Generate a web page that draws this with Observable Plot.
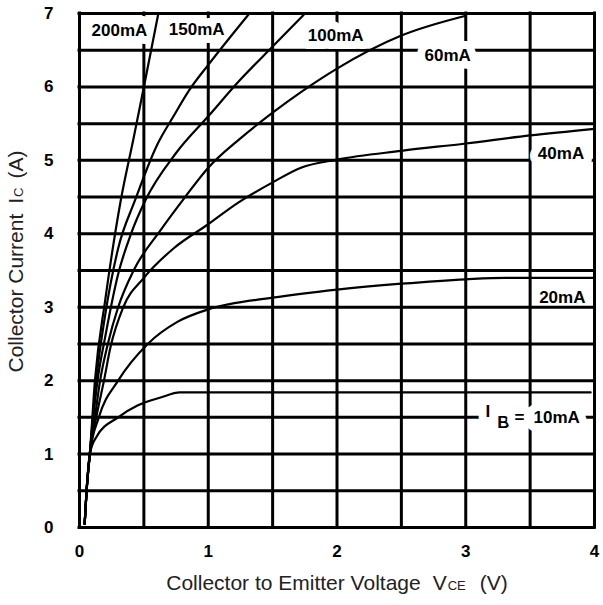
<!DOCTYPE html>
<html>
<head>
<meta charset="utf-8">
<script src="https://cdn.jsdelivr.net/npm/d3@7"></script>
<script src="https://cdn.jsdelivr.net/npm/@observablehq/plot@0.6"></script>
<style>
  body { margin: 0; background: #fff; }
  #chart { width: 603px; height: 605px; }
</style>
</head>
<body>
<div id="chart"></div>
<script>
// ---- Data (VCE in V, IC in A) ----
const v200 = [0.04, 0.055, 0.08, 0.12, 0.2, 0.32, 0.42, 0.5, 0.61];
const i200 = [0.05, 0.5, 1.0, 2.0, 3.1, 4.45, 5.3, 6.0, 6.98];

const v150 = [0.04, 0.055, 0.08, 0.13, 0.2, 0.3, 0.43, 0.6, 0.73, 0.85, 1.0, 1.31];
const i150 = [0.05, 0.5, 1.0, 2.0, 2.9, 3.8, 4.45, 5.2, 5.6, 5.95, 6.3, 6.98];

const v100 = [0.04, 0.055, 0.08, 0.14, 0.2, 0.3, 0.4, 0.51, 0.75, 1.0, 1.25, 1.5, 1.74];
const i100 = [0.05, 0.5, 1.0, 2.0, 2.6, 3.45, 4.0, 4.45, 5.1, 5.6, 6.1, 6.55, 6.98];

const v60 = [0.04, 0.055, 0.08, 0.12, 0.16, 0.22, 0.3, 0.42, 0.63, 0.82, 1.0, 1.25, 1.5, 1.72, 2.0, 2.5, 3.0];
const i60 = [0.05, 0.5, 1.0, 1.5, 2.0, 2.5, 3.0, 3.5, 4.05, 4.5, 4.9, 5.3, 5.65, 5.93, 6.25, 6.7, 6.97];

const v40 = [0.04, 0.055, 0.08, 0.13, 0.19, 0.24, 0.34, 0.5, 0.73, 1.0, 1.23, 1.5, 1.72, 2.0, 2.5, 3.0, 3.5, 4.0];
const i40 = [0.05, 0.5, 1.0, 1.5, 2.0, 2.45, 3.0, 3.4, 3.8, 4.13, 4.42, 4.7, 4.9, 5.01, 5.13, 5.23, 5.34, 5.43];

const v20 = [0.04, 0.055, 0.08, 0.15, 0.3, 0.53, 0.76, 1.0, 1.5, 2.0, 2.5, 3.0, 3.3, 4.0];
const i20 = [0.05, 0.5, 1.0, 1.5, 2.0, 2.5, 2.8, 2.97, 3.13, 3.24, 3.32, 3.38, 3.40, 3.40];

const v10 = [0.04, 0.055, 0.08, 0.13, 0.3, 0.45, 0.63, 0.78, 3.97];
const i10 = [0.05, 0.5, 1.0, 1.23, 1.5, 1.66, 1.77, 1.84, 1.84];

const seriesNames = ["200mA", "150mA", "100mA", "60mA", "40mA", "20mA", "10mA"];

// curve labels and their anchor points (data units)
const labelText = ["200mA", "150mA", "100mA", "60mA", "40mA", "20mA", "IB = 10mA"];
const labelV    = [0.31, 0.91, 1.99, 2.86, 3.74, 3.75, 3.52];
const labelI    = [6.77, 6.78, 6.70, 6.43, 5.09, 3.13, 1.50];
const labelBox  = [true, true, true, true, true, false, true];

// axes
const xTicks = [0, 1, 2, 3, 4];
const yTicks = [0, 1, 2, 3, 4, 5, 6, 7];
const xGrid = [0, 0.5, 1, 1.5, 2, 2.5, 3, 3.5, 4];
const yGrid = [0, 0.5, 1, 1.5, 2, 2.5, 3, 3.5, 4, 4.5, 5, 5.5, 6, 6.5, 7];
const xTitle = "Collector to Emitter Voltage VCE (V)";
const yTitle = "Collector Current IC (A)";

// ---- build table ----
const seriesV = [v200, v150, v100, v60, v40, v20, v10];
const seriesI = [i200, i150, i100, i60, i40, i20, i10];
const rows = seriesNames.flatMap((name, s) =>
  seriesV[s].map((v, k) => ({ s: name, v, i: seriesI[s][k] })));
const labels = labelText.map((t, k) => ({ t, v: labelV[k], i: labelI[k], box: labelBox[k] }));

const font = "'Liberation Sans', Arial, Helvetica, sans-serif";

const chart = Plot.plot({
  width: 603,
  height: 605,
  marginLeft: 79,
  marginRight: 9,
  marginTop: 13,
  marginBottom: 78,
  style: { fontFamily: font, background: "#fff", color: "#000", overflow: "visible" },
  x: { domain: [0, 4] },
  y: { domain: [0, 7] },
  marks: [
    Plot.ruleX(xGrid, { stroke: "#000", strokeWidth: 3, strokeLinecap: "square" }),
    Plot.ruleY(yGrid, { stroke: "#000", strokeWidth: 3, strokeLinecap: "square" }),
    Plot.axisX(xTicks, { tickSize: 0, tickPadding: 17, fontSize: 17, fontWeight: "bold", label: null, tickFormat: d => String(d) }),
    Plot.axisY(yTicks, { tickSize: 0, tickPadding: 26, fontSize: 17, fontWeight: "bold", label: null, tickFormat: d => String(d) }),
    Plot.text(labels.filter(d => d.box), {
      x: "v", y: "i", text: "t", fill: "#000", stroke: "#fff", strokeWidth: 16,
      paintOrder: "stroke", fontSize: 17, fontWeight: "bold"
    }),
    Plot.line(rows, { x: "v", y: "i", z: "s", stroke: "#000", strokeWidth: 2.2, curve: "monotone-x" }),
    Plot.text(labels.filter(d => !d.box), {
      x: "v", y: "i", text: "t", fill: "#000", fontSize: 17, fontWeight: "bold"
    }),
    Plot.text([xTitle], { frameAnchor: "bottom", textAnchor: "middle", dy: 62, fontSize: 21, fill: "#222", text: d => d }),
    Plot.text([yTitle], { frameAnchor: "left", textAnchor: "middle", rotate: -90, dx: -63, dy: -9, fontSize: 21, fill: "#222", text: d => d })
  ]
});

document.getElementById("chart").appendChild(chart);

// ---- rich text (subscripts / small caps) ----
d3.select(chart).selectAll("text").each(function () {
  const t = d3.select(this);
  const s = t.text();
  if (s === "IB = 10mA") {
    t.text(null);
    t.append("tspan").attr("dy", -6).text("I");
    t.append("tspan").attr("dx", 7).attr("dy", 11).text("B");
    t.append("tspan").attr("dx", 5).attr("dy", -5).text("=");
    t.append("tspan").attr("dx", 9).text("10mA");
  } else if (s === xTitle) {
    t.text(null);
    t.append("tspan").text("Collector to Emitter Voltage");
    t.append("tspan").attr("dx", 12).text("V");
    t.append("tspan").attr("dx", 1).attr("font-size", 13).text("CE");
    t.append("tspan").attr("dx", 14).text("(V)");
  } else if (s === yTitle) {
    t.text(null);
    t.append("tspan").text("Collector Current");
    t.append("tspan").attr("dx", 10).text("I");
    t.append("tspan").attr("dx", 1).attr("font-size", 13).text("C");
    t.append("tspan").attr("dx", 9).text("(A)");
  }
});
</script>
</body>
</html>
